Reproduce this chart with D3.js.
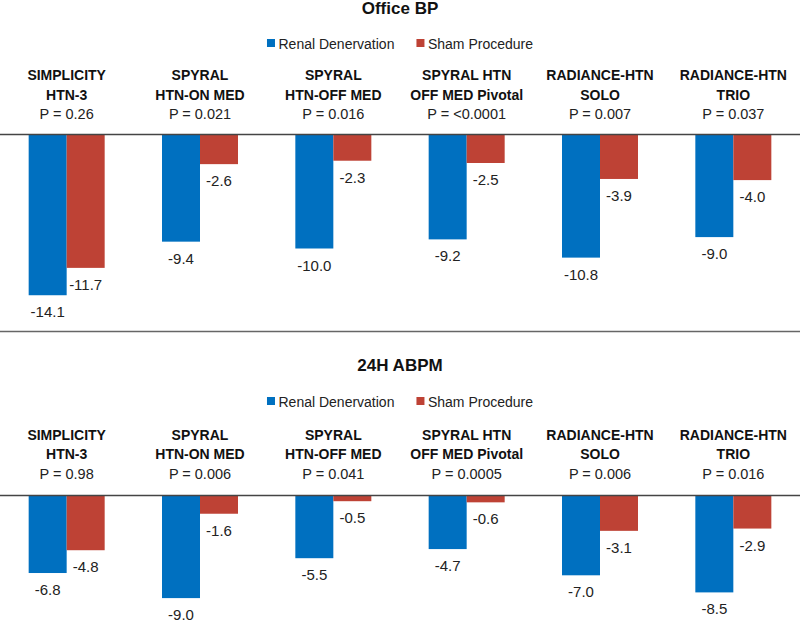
<!DOCTYPE html>
<html>
<head>
<meta charset="utf-8">
<script src="https://cdn.jsdelivr.net/npm/d3@7"></script>
<style>
  body { margin: 0; background: #fff; }
  svg { display: block; font-family: "Liberation Sans", Arial, sans-serif; }
</style>
</head>
<body>
<svg id="chart" width="800" height="622"></svg>
<script>
const studyLine1 = ["SIMPLICITY", "SPYRAL", "SPYRAL", "SPYRAL HTN", "RADIANCE-HTN", "RADIANCE-HTN"];
const studyLine2 = ["HTN-3", "HTN-ON MED", "HTN-OFF MED", "OFF MED Pivotal", "SOLO", "TRIO"];
const seriesNames = ["Renal Denervation", "Sham Procedure"];
const seriesColors = ["#0070C0", "#BE4235"];

const panelTitles = ["Office BP", "24H ABPM"];

const officeRDN  = [-14.1, -9.4, -10.0, -9.2, -10.8, -9.0];
const officeSham = [-11.7, -2.6, -2.3, -2.5, -3.9, -4.0];
const officeP    = ["P = 0.26", "P = 0.021", "P = 0.016", "P = <0.0001", "P = 0.007", "P = 0.037"];

const abpmRDN  = [-6.8, -9.0, -5.5, -4.7, -7.0, -8.5];
const abpmSham = [-4.8, -1.6, -0.5, -0.6, -3.1, -2.9];
const abpmP    = ["P = 0.98", "P = 0.006", "P = 0.041", "P = 0.0005", "P = 0.006", "P = 0.016"];

const panels = [
  { title: panelTitles[0], rdn: officeRDN, sham: officeSham, p: officeP,
    titleY: 14, legendY: 48.5, l1Y: 80, l2Y: 99.5, pY: 118.5, axisY: 134.5 },
  { title: panelTitles[1], rdn: abpmRDN, sham: abpmSham, p: abpmP,
    titleY: 370.5, legendY: 406.5, l1Y: 439.5, l2Y: 459, pY: 478.5, axisY: 495.5 }
];

const W = 800;
const svg = d3.select("#chart");
const idx = d3.range(studyLine1.length);

const x0 = d3.scaleBand().domain(idx).range([0, W]).paddingInner(0.43).paddingOuter(0.215);
const x1 = d3.scaleBand().domain([0, 1]).range([0, x0.bandwidth()]).padding(0);

// separator line
svg.append("line")
  .attr("x1", 0).attr("x2", W).attr("y1", 331.5).attr("y2", 331.5)
  .attr("stroke", "#666").attr("stroke-width", 1.5);

panels.forEach(pn => {
  const g = svg.append("g");
  const y = d3.scaleLinear().domain([0, -15]).range([pn.axisY, pn.axisY + 171]);

  g.append("text")
    .attr("x", W / 2).attr("y", pn.titleY)
    .attr("text-anchor", "middle")
    .attr("font-size", 17).attr("font-weight", "bold").attr("fill", "#111")
    .text(pn.title);

  // legend
  const lg = g.append("g");
  let cx = 0;
  seriesNames.forEach((name, i) => {
    const it = lg.append("g").attr("transform", `translate(${cx},0)`);
    it.append("rect").attr("x", 0).attr("y", pn.legendY - 9.5).attr("width", 8).attr("height", 8)
      .attr("fill", seriesColors[i]);
    const t = it.append("text").attr("x", 11.5).attr("y", pn.legendY)
      .attr("font-size", 14).attr("fill", "#222").text(name);
    cx += 11.5 + t.node().getComputedTextLength() + 22;
  });
  const lw = cx - 22;
  lg.attr("transform", `translate(${(W - lw) / 2},0)`);

  // study labels
  idx.forEach(i => {
    const cxs = x0(i) + x0.bandwidth() / 2;
    g.append("text").attr("x", cxs).attr("y", pn.l1Y).attr("text-anchor", "middle")
      .attr("font-size", 14).attr("font-weight", "bold").attr("fill", "#111").text(studyLine1[i]);
    g.append("text").attr("x", cxs).attr("y", pn.l2Y).attr("text-anchor", "middle")
      .attr("font-size", 14).attr("font-weight", "bold").attr("fill", "#111").text(studyLine2[i]);
    g.append("text").attr("x", cxs).attr("y", pn.pY).attr("text-anchor", "middle")
      .attr("font-size", 14.5).attr("fill", "#222").text(pn.p[i]);
  });

  // bars
  const vals = [pn.rdn, pn.sham];
  vals.forEach((arr, s) => {
    g.selectAll(null).data(arr).enter().append("rect")
      .attr("x", (d, i) => x0(i) + x1(s))
      .attr("width", x1.bandwidth())
      .attr("y", y(0))
      .attr("height", d => y(d) - y(0))
      .attr("fill", seriesColors[s]);
    g.selectAll(null).data(arr).enter().append("text")
      .attr("x", (d, i) => x0(i) + x1(s) + x1.bandwidth() / 2)
      .attr("y", d => y(d) + 22)
      .attr("text-anchor", "middle")
      .attr("font-size", 15).attr("fill", "#222")
      .text(d => d.toFixed(1));
  });

  g.append("line")
    .attr("x1", 0).attr("x2", W).attr("y1", y(0)).attr("y2", y(0))
    .attr("stroke", "#444").attr("stroke-width", 1.5);
});
</script>
</body>
</html>
